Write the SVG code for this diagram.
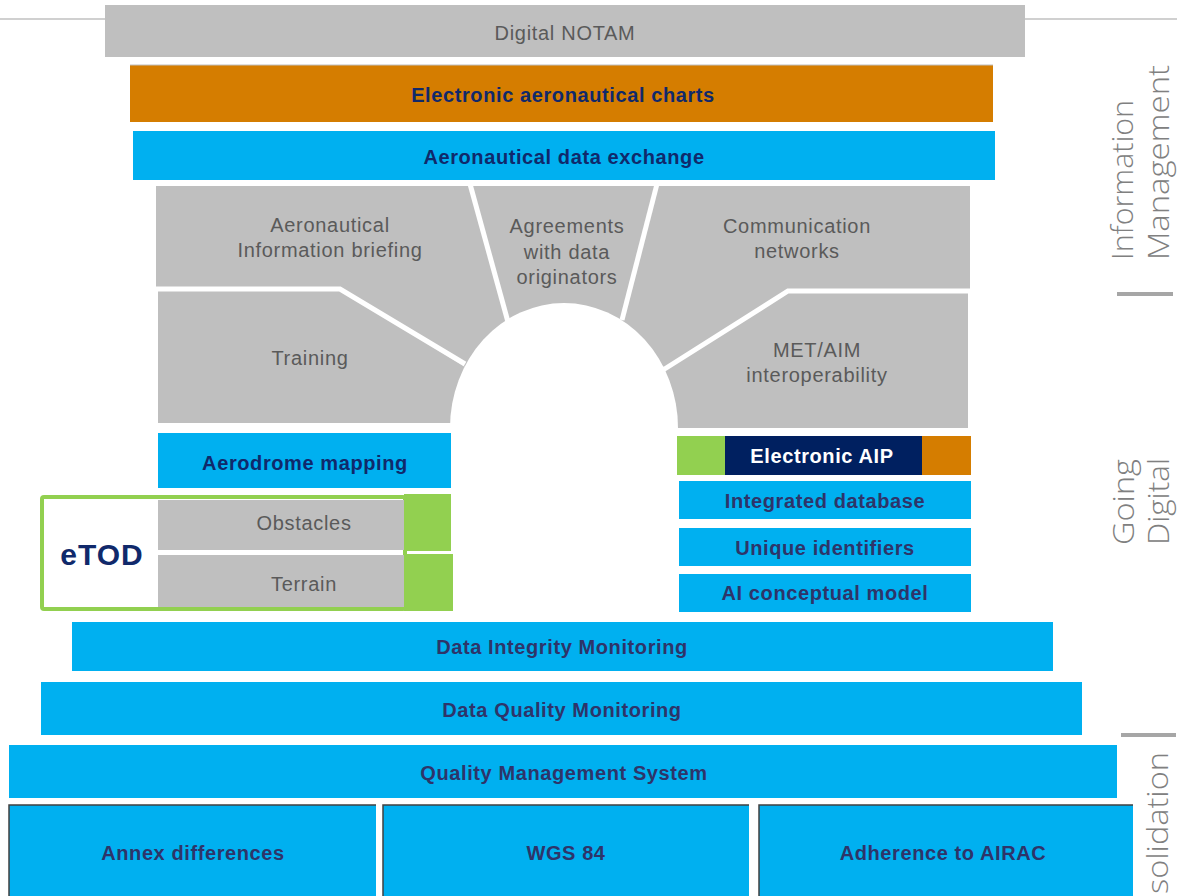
<svg xmlns="http://www.w3.org/2000/svg" width="1177" height="896" viewBox="0 0 1177 896">
<style>
.g{fill:#BFBFBF}
.b{fill:#00B0F0}
.lt{font-family:"Liberation Sans",Arial,sans-serif;font-size:20px;letter-spacing:0.7px;fill:#5A5A5A;text-anchor:middle}
.bd{font-family:"Liberation Sans","Open Sans",sans-serif;font-weight:bold;font-size:20px;letter-spacing:0.6px;fill:#10296B;text-anchor:middle}
.bd2{font-family:"Liberation Sans","Open Sans",sans-serif;font-weight:bold;font-size:20px;letter-spacing:0.6px;fill:#2E3469;text-anchor:middle}
.side{font-family:"Open Sans","Liberation Sans",sans-serif;font-weight:300;font-size:30px;fill:#808080}
.sep{fill:none;stroke:#FFFFFF;stroke-width:5}
.bar{stroke:#A6A6A6;stroke-width:4}
.edge{stroke:#404040;stroke-width:1.5;fill:none}
</style>
<rect width="1177" height="896" fill="#FFFFFF"/>
<g id="toplines">
<line x1="0" y1="19" x2="105" y2="19" stroke="#D0D0D0" stroke-width="2"/>
<line x1="1025" y1="19" x2="1177" y2="19" stroke="#D0D0D0" stroke-width="2"/>
</g>
<g id="digital-notam"><rect class="g" x="105" y="5" width="920" height="52"/><text class="lt" x="565" y="40">Digital NOTAM</text></g>
<g id="charts"><rect x="130" y="65" width="863" height="57" fill="#D57D00"/><line x1="130" y1="65" x2="993" y2="65" stroke="#BFBFBF" stroke-width="1"/><text class="bd" x="563" y="102">Electronic aeronautical charts</text></g>
<g id="data-exchange"><rect class="b" x="133" y="131" width="862" height="49"/><text class="bd" x="564" y="164">Aeronautical data exchange</text></g>
<g id="arch">
<g id="aib"><polygon class="g" points="156,186 472,186 510,330 470,370 340,289 156,289"/></g>
<g id="training"><polygon class="g" points="158,289 340,289 470,370 470,423 158,423"/></g>
<g id="agreements"><polygon class="g" points="472,186 657,186 620,330 510,330"/></g>
<g id="comm"><polygon class="g" points="657,186 970,186 970,291 788,291 665,368 620,330"/></g>
<g id="metaim"><polygon class="g" points="788,291 968,291 968,428 665,428 665,368"/></g>
<polyline class="sep" points="156,289 340,289 465,364"/>
<line class="sep" x1="470" y1="184" x2="508" y2="322"/>
<line class="sep" x1="657" y1="184" x2="622" y2="320"/>
<polyline class="sep" points="972,291 788,291 663,370"/>
<path d="M450,432 L450,428 A114,125 0 0 1 678,428 L678,432 Z" fill="#FFFFFF"/>
<text class="lt" x="330" y="232">Aeronautical</text><text class="lt" x="330" y="257">Information briefing</text>
<text class="lt" x="310" y="365">Training</text>
<text class="lt" x="567" y="233">Agreements</text><text class="lt" x="567" y="259">with data</text><text class="lt" x="567" y="284">originators</text>
<text class="lt" x="797" y="233">Communication</text><text class="lt" x="797" y="258">networks</text>
<text class="lt" x="817" y="357">MET/AIM</text><text class="lt" x="817" y="382">interoperability</text>
</g>
<g id="aerodrome"><rect class="b" x="158" y="433" width="293" height="55"/><text class="bd" x="305" y="470">Aerodrome mapping</text></g>
<g id="etod">
<rect x="404" y="494" width="47" height="57" fill="#92D050"/>
<rect x="404" y="554" width="49" height="57" fill="#92D050"/>
<rect x="42" y="497" width="363" height="112" rx="2" fill="#FFFFFF" stroke="#92D050" stroke-width="4"/>
<rect class="g" x="158" y="500" width="246" height="50"/>
<rect class="g" x="158" y="555" width="246" height="52"/>
<text class="lt" x="304" y="530">Obstacles</text>
<text class="lt" x="304" y="591">Terrain</text>
<text x="102" y="565" text-anchor="middle" font-family="Liberation Sans, sans-serif" font-weight="bold" font-size="30" letter-spacing="1" fill="#10296B">eTOD</text>
</g>
<g id="eaip">
<rect x="677" y="436" width="49" height="39" fill="#92D050"/>
<rect x="725" y="436" width="197" height="39" fill="#002060"/>
<rect x="922" y="436" width="49" height="39" fill="#D57D00"/>
<text class="bd" x="822" y="463" style="fill:#FFFFFF">Electronic AIP</text>
</g>
<g id="integrated"><rect class="b" x="679" y="481" width="292" height="38"/><text class="bd2" x="825" y="508">Integrated database</text></g>
<g id="unique"><rect class="b" x="679" y="528" width="292" height="38"/><text class="bd2" x="825" y="555">Unique identifiers</text></g>
<g id="aicm"><rect class="b" x="679" y="574" width="292" height="38"/><text class="bd2" x="825" y="600">AI conceptual model</text></g>
<g id="dim"><rect class="b" x="72" y="622" width="981" height="49"/><text class="bd2" x="562" y="654">Data Integrity Monitoring</text></g>
<g id="dqm"><rect class="b" x="41" y="682" width="1041" height="53"/><text class="bd2" x="562" y="717">Data Quality Monitoring</text></g>
<g id="qms"><rect class="b" x="9" y="745" width="1108" height="53"/><text class="bd2" x="564" y="780">Quality Management System</text></g>
<g id="annex"><rect class="b" x="9" y="805" width="367" height="91"/><polyline class="edge" points="9,896 9,805 376,805"/><text class="bd2" x="193" y="860">Annex differences</text></g>
<g id="wgs"><rect class="b" x="383" y="805" width="366" height="91"/><polyline class="edge" points="383,896 383,805 749,805"/><text class="bd2" x="566" y="860">WGS 84</text></g>
<g id="airac"><rect class="b" x="759" y="805" width="374" height="91"/><polyline class="edge" points="759,896 759,805 1133,805"/><text class="bd2" x="943" y="860">Adherence to AIRAC</text></g>
<g id="labels">
<text class="side" transform="translate(1133,260) rotate(-90)" textLength="160" lengthAdjust="spacingAndGlyphs">Information</text>
<text class="side" transform="translate(1169,260) rotate(-90)" textLength="195" lengthAdjust="spacingAndGlyphs">Management</text>
<line class="bar" x1="1117" y1="294" x2="1173" y2="294"/>
<text class="side" transform="translate(1134,545) rotate(-90)" textLength="86" lengthAdjust="spacingAndGlyphs">Going</text>
<text class="side" transform="translate(1169,545) rotate(-90)" textLength="87" lengthAdjust="spacingAndGlyphs">Digital</text>
<line class="bar" x1="1121" y1="735" x2="1176" y2="735"/>
<text class="side" transform="translate(1168,894) rotate(-90)" textLength="142" lengthAdjust="spacingAndGlyphs">solidation</text>
</g>
</svg>
